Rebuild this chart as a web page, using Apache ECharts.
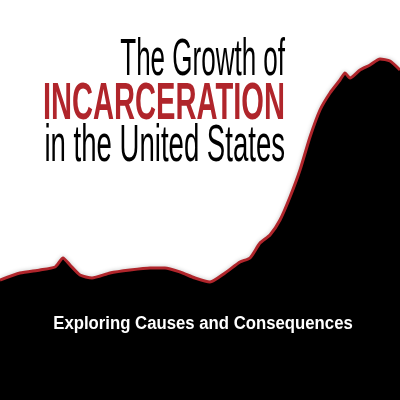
<!DOCTYPE html><html><head><meta charset="utf-8"><script src="https://cdn.jsdelivr.net/npm/echarts@6/dist/echarts.min.js"></script>
<style>html,body{margin:0;padding:0;background:#fff}#c{width:400px;height:400px}</style></head><body><div id="c"></div><script>
var xs=[0,20,40,55,63,70,80,92,110,130,150,165,180,195,210,225,240,250,260,270,280,290,300,310,320,330,340,345,350,360,370,380,390,400];
var ys=[120,127,130,133,142,135,125,122,127,130,132,132,128,122,118,127,138,142,157,165,180,203,230,263,290,307,320,327,322,330,335,341,339,330];
var title1='The Growth of', title2='INCARCERATION', title3='in the United States', subtitle='Exploring Causes and Consequences';
var ch=echarts.init(document.getElementById('c'));
var F='"Liberation Sans Narrow","Liberation Sans",sans-serif';
ch.setOption({animation:false,
grid:{left:0,right:0,top:0,bottom:0},
xAxis:{type:'value',min:0,max:400,show:false},
yAxis:{type:'value',min:0,max:400,show:false},
series:[{type:'line',data:xs.map(function(x,i){return [x,ys[i]];}),symbol:'none',smooth:0.2,z:1,
lineStyle:{color:'#b0252b',width:3,shadowColor:'rgba(0,0,0,0.25)',shadowBlur:4},areaStyle:{color:'#000',opacity:1}}],
graphic:[
{type:'text',z:100,x:285,y:35,scaleX:0.5,style:{text:title1,font:'52px '+F,fill:'#000',textAlign:'right'}},
{type:'text',z:100,x:285,y:79,scaleX:0.56,style:{text:title2,font:'bold 52px '+F,fill:'#b0252b',textAlign:'right'}},
{type:'text',z:100,x:285,y:121,scaleX:0.53,style:{text:title3,font:'52px '+F,fill:'#000',textAlign:'right'}},
{type:'text',z:100,x:203,y:315,scaleX:0.93,style:{text:subtitle,font:'bold 18px "Liberation Sans",sans-serif',fill:'#fff',textAlign:'center'}}
]});
</script></body></html>
